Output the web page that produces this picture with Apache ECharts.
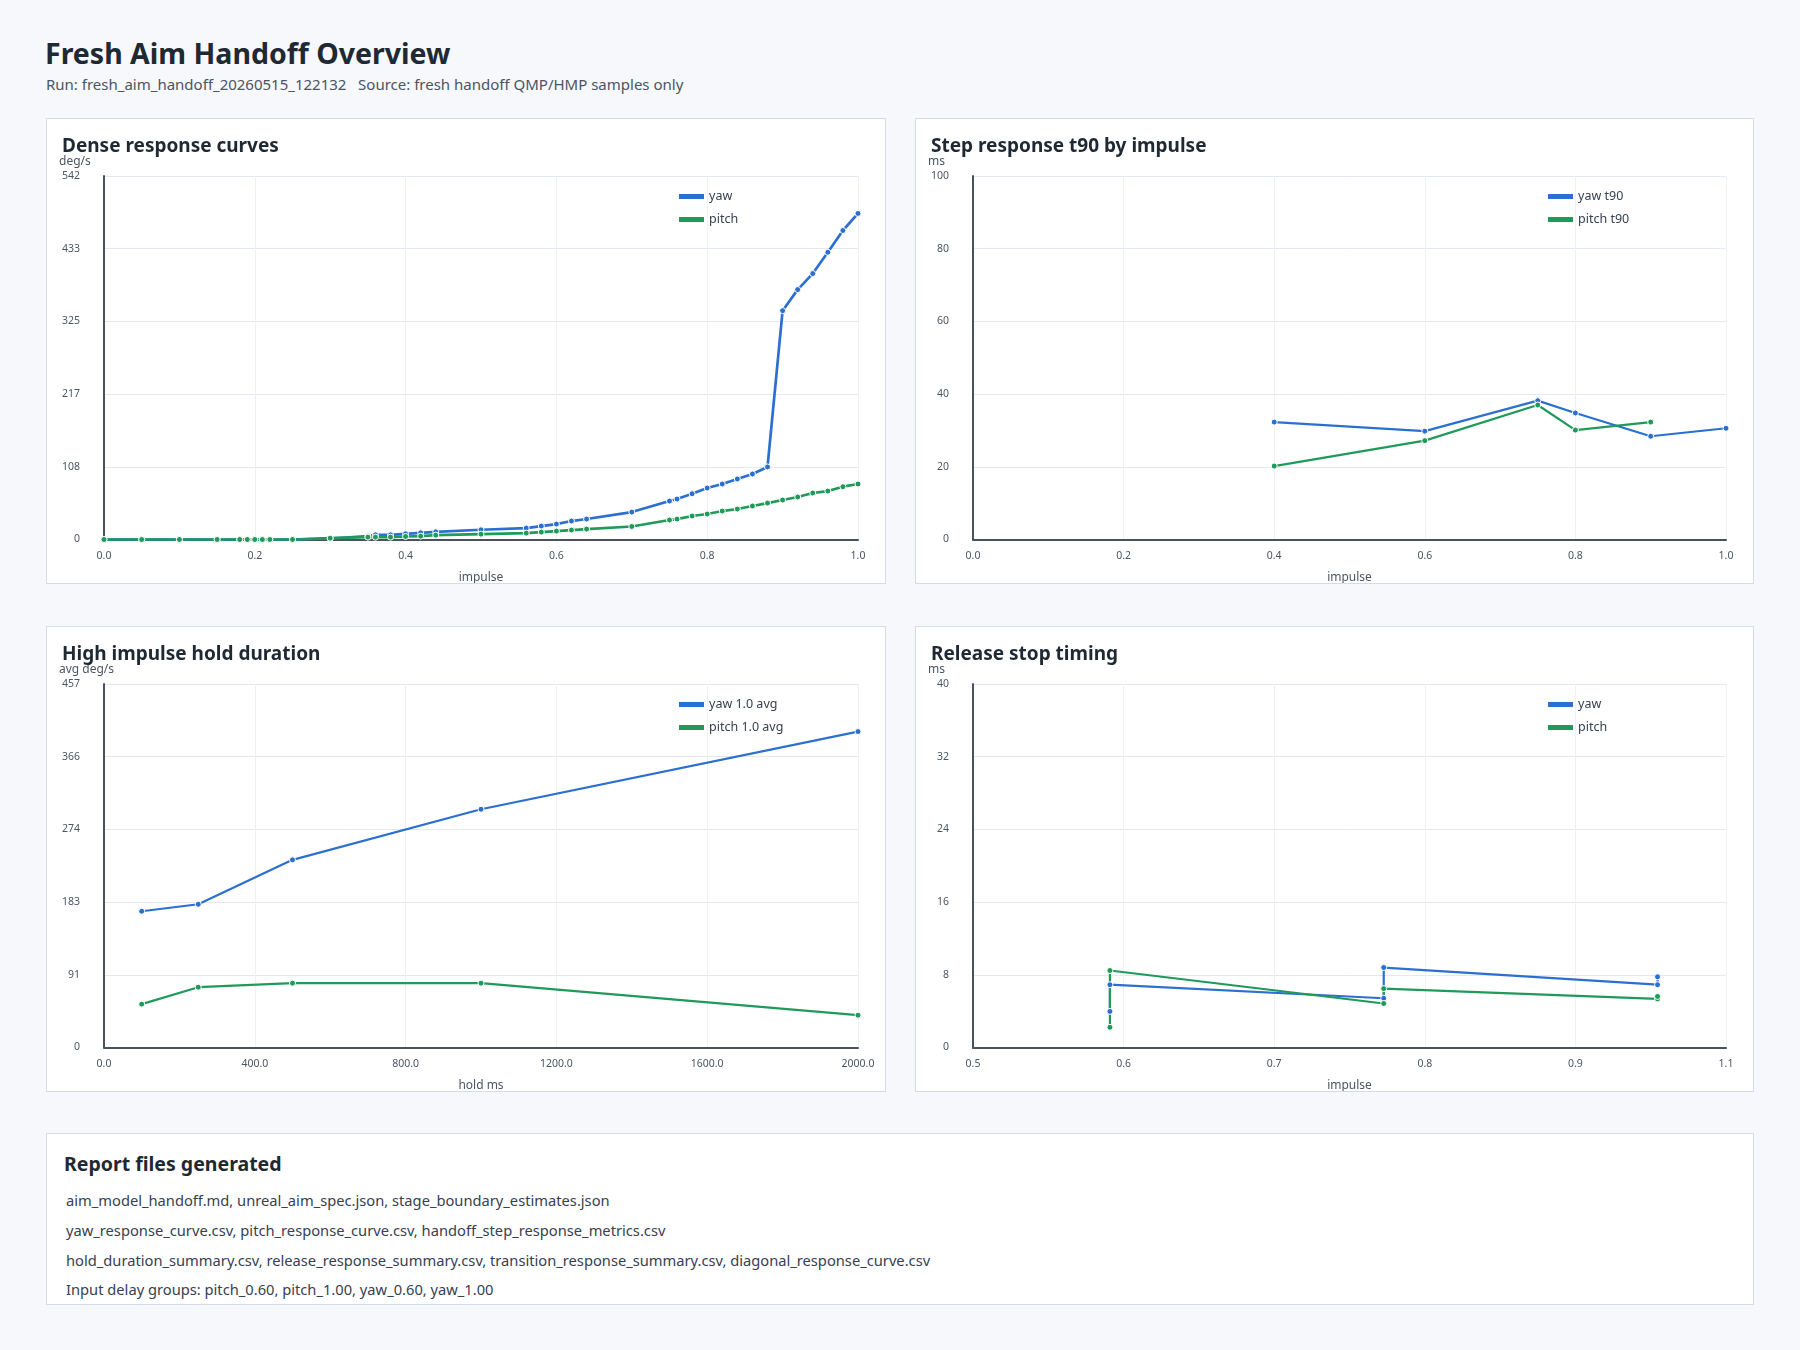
<!DOCTYPE html>
<html>
<head>
<meta charset="utf-8">
<script src="https://cdn.jsdelivr.net/npm/echarts@6/dist/echarts.min.js"></script>
<style>
  html, body { margin:0; padding:0; }
  body { width:1800px; height:1350px; background:#f6f8fb; font-family:"Noto Sans", sans-serif; position:relative; overflow:hidden; }
  #title { position:absolute; left:45px; top:35px; margin:0; font-size:28.5px; line-height:36px; font-weight:700; color:#1f2933; }
  #sub { position:absolute; left:46px; top:74px; font-size:15px; line-height:20px; color:#4b5563; white-space:pre; }
  .panel { position:absolute; background:#fff; border:1px solid #d5dce6; box-sizing:border-box; }
  .chart { position:absolute; left:0; top:0; right:0; bottom:0; }
  #report { position:absolute; left:46px; top:1133px; width:1708px; height:172px; background:#fff; border:1px solid #d5dce6; box-sizing:border-box; }
  #report h2 { position:absolute; left:17px; top:17px; margin:0; font-size:19.5px; line-height:26px; font-weight:700; color:#1f2933; }
  #report .ln { position:absolute; left:19px; font-size:14.7px; line-height:20px; color:#374151; white-space:nowrap; }
</style>
</head>
<body>
<h1 id="title">Fresh Aim Handoff Overview</h1>
<div id="sub">Run: fresh_aim_handoff_20260515_122132   Source: fresh handoff QMP/HMP samples only</div>

<div class="panel" style="left:46px;top:118px;width:840px;height:466px;"><div class="chart" id="c1"></div></div>
<div class="panel" style="left:915px;top:118px;width:839px;height:466px;"><div class="chart" id="c2"></div></div>
<div class="panel" style="left:46px;top:626px;width:840px;height:466px;"><div class="chart" id="c3"></div></div>
<div class="panel" style="left:915px;top:626px;width:839px;height:466px;"><div class="chart" id="c4"></div></div>

<div id="report">
  <h2>Report files generated</h2>
  <div class="ln" style="top:56px;">aim_model_handoff.md, unreal_aim_spec.json, stage_boundary_estimates.json</div>
  <div class="ln" style="top:86px;">yaw_response_curve.csv, pitch_response_curve.csv, handoff_step_response_metrics.csv</div>
  <div class="ln" style="top:116px;">hold_duration_summary.csv, release_response_summary.csv, transition_response_summary.csv, diagonal_response_curve.csv</div>
  <div class="ln" style="top:145px;">Input delay groups: pitch_0.60, pitch_1.00, yaw_0.60, yaw_1.00</div>
</div>

<script>
// ---------- data ----------
const denseImpulse = [0.00,0.05,0.10,0.15,0.18,0.19,0.20,0.21,0.22,0.25,0.30,0.35,0.36,0.38,0.40,0.42,0.44,0.50,0.56,0.58,0.60,0.62,0.64,0.70,0.75,0.76,0.78,0.80,0.82,0.84,0.86,0.88,0.90,0.92,0.94,0.96,0.98,1.00];
const denseYaw   = [0,0,0,0,0,0,0,0,0,0,1.5,5,7,7,8.5,10,11.5,14.5,17,20,23,27.5,30.5,40.9,57.3,60.3,68.2,76.7,82.7,90.2,97.6,108.1,341,372.4,396.3,428,460.5,485.9];
const densePitch = [0,0,0,0,0,0,0,0,0,0,2,3.5,3.5,3.5,4.5,5,6.5,8,9.5,11,12.5,14,15.5,19.4,29,30.4,35,38,42.4,45.4,49.9,54.3,58.8,63.3,69.3,72.2,78.7,82.7];

const stepYawImpulse   = [0.4,0.6,0.75,0.8,0.9,1.0];
const stepYawT90       = [32.3,29.8,38.2,34.8,28.4,30.6];
const stepPitchImpulse = [0.4,0.6,0.75,0.8,0.9];
const stepPitchT90     = [20.2,27.2,37.0,30.1,32.3];

const holdMs     = [100,250,500,1000,2000];
const holdYaw    = [171.3,180.1,235.9,299.5,397.2];
const holdPitch  = [54.5,75.8,80.9,80.9,40.6];

const relYawImpulse   = [0.6,0.6,0.8,0.8,1.0,1.0];
const relYawMs        = [3.97,6.91,5.42,8.8,6.91,7.78];
const relPitchImpulse = [0.6,0.6,0.8,0.8,1.0,1.0];
const relPitchMs      = [2.22,8.47,4.84,6.48,5.35,5.62];

// ---------- styling ----------
const BLUE = '#2b6fd0', GREEN = '#1f9a5a';
const FONT = 'Noto Sans';
const zip = (xs, ys) => xs.map((x, i) => [x, ys[i]]);

function baseOption(cfg) {
  return {
    animation: false,
    textStyle: { fontFamily: FONT },
    title: { text: cfg.title, left: 10, top: 13, textStyle: { fontFamily: FONT, fontSize: 19, fontWeight: 700, color: '#1f2933' } },
    legend: {
      orient: 'vertical', left: 627, top: 66, itemWidth: 25, itemHeight: 5, itemGap: 10,
      icon: 'rect', textStyle: { fontFamily: FONT, fontSize: 12.5, color: '#374151' },
      data: cfg.series.map(s => ({ name: s.name, itemStyle: { color: s.color, borderWidth: 0 } }))
    },
    grid: { left: 57, right: 27, top: 57, bottom: 43.5, containLabel: false, outerBoundsMode: 'none' },
    xAxis: {
      type: 'value', min: cfg.xMin, max: cfg.xMax, interval: cfg.xInterval,
      name: cfg.xName, nameLocation: 'middle', nameGap: 32,
      nameTextStyle: { fontFamily: FONT, fontSize: 12, color: '#4b5563' },
      axisLine: { show: true, onZero: false, lineStyle: { color: '#4a5260', width: 2 } },
      axisTick: { show: false },
      axisLabel: { margin: 11, fontSize: 10.5, color: '#4b5563', fontFamily: FONT, formatter: v => v.toFixed(1) },
      splitLine: { show: true, lineStyle: { color: '#eef1f5', width: 1 } }
    },
    yAxis: {
      type: 'value', min: 0, max: cfg.yMax, interval: cfg.yInterval,
      name: cfg.yName, nameLocation: 'end', nameGap: 8,
      nameTextStyle: { fontFamily: FONT, fontSize: 12, color: '#4b5563', align: 'left', padding: [0, 0, 0, -45] },
      axisLine: { show: true, lineStyle: { color: '#4a5260', width: 2 } },
      axisTick: { show: false },
      axisLabel: { margin: 24, fontSize: 10.5, color: '#4b5563', fontFamily: FONT, formatter: v => String(Math.round(v)) },
      splitLine: { show: true, lineStyle: { color: '#e4e9f0', width: 1 } }
    },
    series: cfg.series.map(s => ({
      name: s.name, type: 'line', data: s.data, symbol: 'circle', symbolSize: cfg.symbolSize || 6,
      showSymbol: true, clip: false,
      lineStyle: { color: s.color, width: cfg.lineWidth || 2.2 },
      itemStyle: { color: s.color, borderColor: '#ffffff', borderWidth: 1 }
    }))
  };
}

const charts = [
  ['c1', baseOption({
    title: 'Dense response curves', xName: 'impulse', yName: 'deg/s',
    xMin: 0, xMax: 1, xInterval: 0.2, yMax: 541.7, yInterval: 108.34, lineWidth: 2.7,
    series: [
      { name: 'yaw', color: BLUE, data: zip(denseImpulse, denseYaw) },
      { name: 'pitch', color: GREEN, data: zip(denseImpulse, densePitch) }
    ]
  })],
  ['c2', baseOption({
    title: 'Step response t90 by impulse', xName: 'impulse', yName: 'ms',
    xMin: 0, xMax: 1, xInterval: 0.2, yMax: 100, yInterval: 20,
    series: [
      { name: 'yaw t90', color: BLUE, data: zip(stepYawImpulse, stepYawT90) },
      { name: 'pitch t90', color: GREEN, data: zip(stepPitchImpulse, stepPitchT90) }
    ]
  })],
  ['c3', baseOption({
    title: 'High impulse hold duration', xName: 'hold ms', yName: 'avg deg/s',
    xMin: 0, xMax: 2000, xInterval: 400, yMax: 457, yInterval: 91.4,
    series: [
      { name: 'yaw 1.0 avg', color: BLUE, data: zip(holdMs, holdYaw) },
      { name: 'pitch 1.0 avg', color: GREEN, data: zip(holdMs, holdPitch) }
    ]
  })],
  ['c4', baseOption({
    title: 'Release stop timing', xName: 'impulse', yName: 'ms',
    xMin: 0.5, xMax: 1.05, xInterval: 0.11, yMax: 40, yInterval: 8,
    series: [
      { name: 'yaw', color: BLUE, data: zip(relYawImpulse, relYawMs) },
      { name: 'pitch', color: GREEN, data: zip(relPitchImpulse, relPitchMs) }
    ]
  })]
];

charts.forEach(([id, opt]) => {
  const c = echarts.init(document.getElementById(id), null, { renderer: 'canvas' });
  c.setOption(opt);
});
</script>
</body>
</html>
